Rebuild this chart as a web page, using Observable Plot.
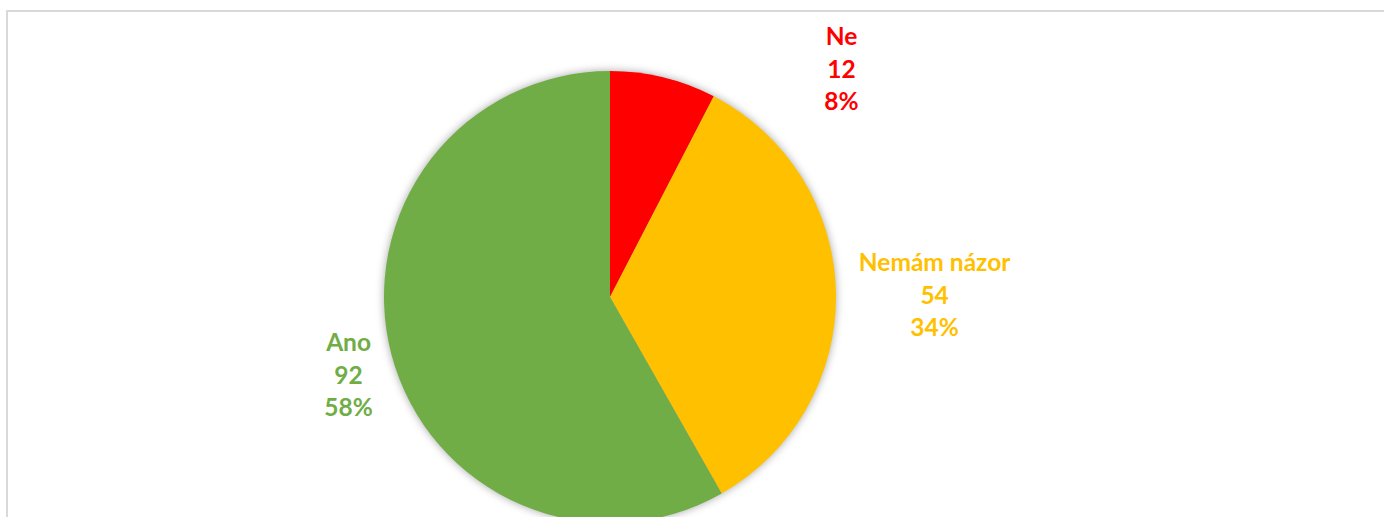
<!DOCTYPE html>
<html><head><meta charset="utf-8">
<script src="https://cdn.jsdelivr.net/npm/d3@7"></script>
<script src="https://cdn.jsdelivr.net/npm/@observablehq/plot@0.6"></script>
<style>
html,body{margin:0;padding:0;background:#fff;overflow:hidden;}
#wrap{position:relative;width:1384px;height:517px;overflow:hidden;}
#border{position:absolute;left:6px;top:10px;width:1420px;height:620px;border-top:2px solid #d9d9d9;border-left:2px solid #d9d9d9;box-sizing:border-box;}
#chart{position:absolute;left:0;top:0;}
</style></head><body><div id="wrap"><div id="border"></div><div id="chart"></div></div>
<script>
const categories = ["Ne", "Nemám názor", "Ano"];
const counts = [12, 54, 92];
const colors = ["#FF0000", "#FFC000", "#70AD47"];
// label anchor positions in units of the pie radius (layout only)
const labelX = [1.022, 1.434, -1.159];
const labelY = [1.018, 0.018, -0.336];

const total = d3.sum(counts);
const data = categories.map((c, i) => ({
  category: c,
  count: counts[i],
  pct: Math.round(counts[i] / total * 100) + "%",
  lx: labelX[i],
  ly: labelY[i]
}));

const arcs = d3.pie().sort(null).value(d => d.count)(data);

function pieMark(index, scales) {
  const cx = scales.x(0), cy = scales.y(0);
  const r = scales.x(1) - scales.x(0);
  const arc = d3.arc().innerRadius(0).outerRadius(r);
  const g = d3.create("svg:g")
    .attr("transform", `translate(${cx},${cy})`)
    .style("filter", "drop-shadow(0px 0px 4px rgba(0,0,0,0.35))");
  g.selectAll("path").data(arcs).join("path")
    .attr("d", arc)
    .attr("fill", d => scales.color(d.data.category));
  return g.node();
}

const chart = Plot.plot({
  width: 1384,
  height: 517,
  margin: 0,
  x: {domain: [-1, 1], range: [384, 836], axis: null},
  y: {domain: [-1, 1], range: [523, 71], axis: null},
  color: {domain: categories, range: colors},
  style: {background: "transparent", overflow: "visible"},
  marks: [
    pieMark,
    Plot.text(data, {
      x: "lx", y: "ly",
      text: d => `${d.category}\n${d.count}\n${d.pct}`,
      fill: "category",
      fontSize: 24.5,
      fontWeight: "bold",
      fontFamily: "Lato, 'Open Sans', sans-serif",
      lineHeight: 1.33,
      textAnchor: "middle",
      lineAnchor: "middle"
    })
  ]
});
document.getElementById("chart").appendChild(chart);
</script></body></html>
